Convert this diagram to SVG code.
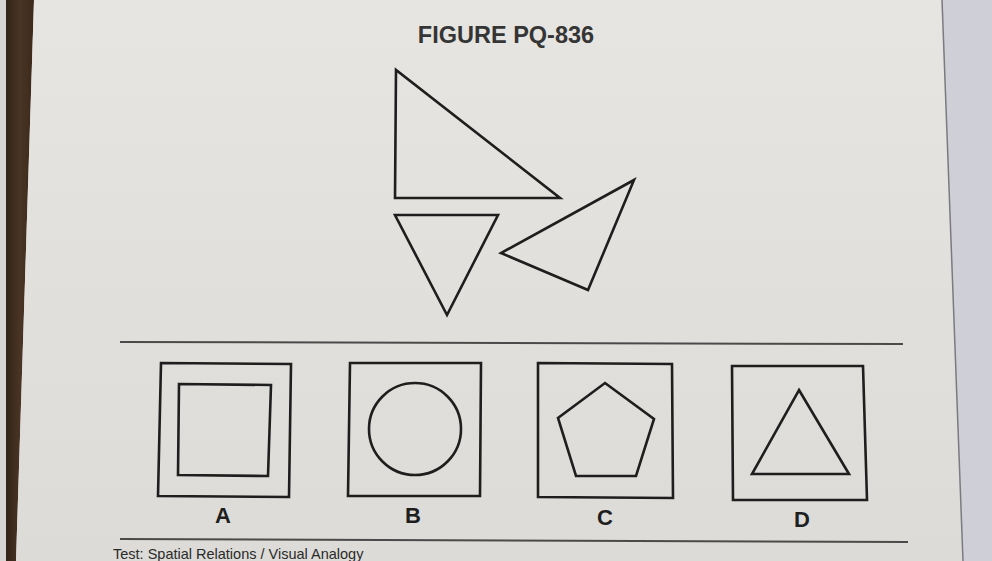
<svg xmlns="http://www.w3.org/2000/svg" width="992" height="561" viewBox="0 0 992 561">
<defs>
<linearGradient id="paper" x1="0" y1="0" x2="0" y2="1">
<stop offset="0" stop-color="#e6e5e1"/>
<stop offset="1" stop-color="#dcdbd7"/>
</linearGradient>
<linearGradient id="wood" x1="0" y1="0" x2="1" y2="0">
<stop offset="0" stop-color="#2a1c12"/>
<stop offset="0.6" stop-color="#4a3525"/>
<stop offset="1" stop-color="#3a2819"/>
</linearGradient>
<style>
.shape{fill:none;stroke:#1e1e1e;stroke-width:2.6;stroke-linejoin:miter}
.rule{stroke:#4a4a4a;stroke-width:2}
.lbl{font-family:"Liberation Sans",Arial,sans-serif;font-weight:bold;font-size:22px;fill:#1e1e1e;text-anchor:middle}
.title{font-family:"Liberation Sans",Arial,sans-serif;font-weight:bold;font-size:23.5px;fill:#353535;text-anchor:middle}
.foot{font-family:"Liberation Sans",Arial,sans-serif;font-size:14.5px;fill:#2a2a2a}
</style>
</defs>
<rect x="0" y="0" width="992" height="561" fill="#cfd0d7"/>
<polygon points="0,0 34,0 16,561 0,561" fill="url(#wood)"/>
<rect x="0" y="0" width="6" height="561" fill="#d8d6d2"/>
<polygon points="34,0 942,0 963,561 16,561" fill="url(#paper)"/>
<line x1="942" y1="0" x2="963" y2="561" stroke="#7a7a80" stroke-width="1.5"/>

<g id="title"><text class="title" x="506" y="43">FIGURE PQ-836</text></g>

<g id="figure">
<polygon id="tri-right" class="shape" points="396,70 395,198 560,198"/>
<polygon id="tri-down" class="shape" points="395,215 498,215 447,315"/>
<polygon id="tri-rot" class="shape" points="634,180 501,253 588,290"/>
</g>

<g id="rules">
<line class="rule" x1="120" y1="342" x2="903" y2="344"/>
<line class="rule" x1="120" y1="539" x2="908" y2="542"/>
</g>

<g id="optA">
<polygon class="shape" points="161,363 291,364 289,497 158,496"/>
<polygon class="shape" points="179,384 271,385 268,476 178,475"/>
<text class="lbl" x="223" y="523">A</text>
</g>
<g id="optB">
<polygon class="shape" points="350,363 481,363 480,496 348,496"/>
<ellipse class="shape" cx="415" cy="429" rx="46" ry="46"/>
<text class="lbl" x="413" y="523">B</text>
</g>
<g id="optC">
<polygon class="shape" points="538,363 672,364 673,498 538,497"/>
<polygon class="shape" points="605,383 654,419 636,476 576,476 558,418"/>
<text class="lbl" x="605" y="525">C</text>
</g>
<g id="optD">
<polygon class="shape" points="732,366 863,366 867,500 733,500"/>
<polygon class="shape" points="799,390 849,474 752,474"/>
<text class="lbl" x="802" y="527">D</text>
</g>

<g id="footer"><text class="foot" x="113" y="559">Test: Spatial Relations / Visual Analogy</text></g>
</svg>
